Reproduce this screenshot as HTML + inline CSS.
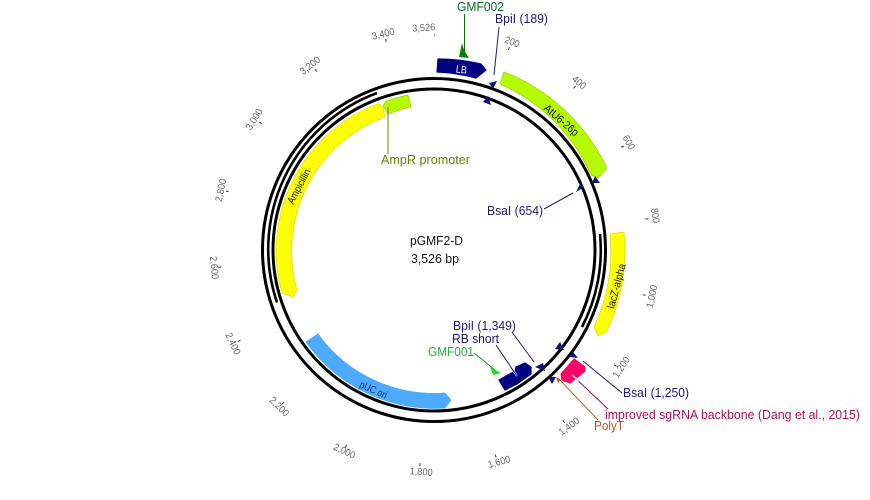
<!DOCTYPE html>
<html><head><meta charset="utf-8"><style>
html,body{margin:0;padding:0;background:#fff}
svg{display:block}
text{font-family:"Liberation Sans",sans-serif}
.t{font-size:10px;fill:#666;text-anchor:middle}
.l{font-size:12.5px}
</style></head><body>
<svg width="870" height="500" viewBox="0 0 870 500" xmlns="http://www.w3.org/2000/svg">
<circle cx="434" cy="250" r="171.5" fill="none" stroke="#000" stroke-width="3"/>
<circle cx="434" cy="250" r="161" fill="none" stroke="#000" stroke-width="3"/>
<path d="M277,302.5 A166.5 166.5 0 0 1 377,93" fill="none" stroke="#000" stroke-width="2.6"/>
<path d="M600,234 A166.5 166.5 0 0 1 582,327" fill="none" stroke="#000" stroke-width="2.6"/>
<circle cx="434" cy="250" r="215" fill="none" stroke="#333" stroke-width="3" pathLength="3526" stroke-dasharray="2.6 197.4" stroke-dashoffset="1.3" transform="rotate(-90 434 250)"/>

<g class="ticks">
<text class="t" lengthAdjust="spacingAndGlyphs" transform="translate(424,31) rotate(-4)" textLength="23">3,526</text>
<text class="t" lengthAdjust="spacingAndGlyphs" transform="translate(384,37) rotate(-14)" textLength="23">3,400</text>
<text class="t" lengthAdjust="spacingAndGlyphs" transform="translate(312,68) rotate(-38)" textLength="23">3,200</text>
<text class="t" lengthAdjust="spacingAndGlyphs" transform="translate(257,121) rotate(-58)" textLength="23">3,000</text>
<text class="t" lengthAdjust="spacingAndGlyphs" transform="translate(224,191) rotate(-78)" textLength="23">2,800</text>
<text class="t" lengthAdjust="spacingAndGlyphs" transform="translate(211,268) rotate(85)" textLength="23">2,600</text>
<text class="t" lengthAdjust="spacingAndGlyphs" transform="translate(230,345) rotate(65)" textLength="23">2,400</text>
<text class="t" lengthAdjust="spacingAndGlyphs" transform="translate(277,409) rotate(45)" textLength="23">2,200</text>
<text class="t" lengthAdjust="spacingAndGlyphs" transform="translate(343,454) rotate(25)" textLength="23">2,000</text>
<text class="t" lengthAdjust="spacingAndGlyphs" transform="translate(421,475) rotate(4)" textLength="23">1,800</text>
<text class="t" lengthAdjust="spacingAndGlyphs" transform="translate(500,465) rotate(-16)" textLength="23">1,600</text>
<text class="t" lengthAdjust="spacingAndGlyphs" transform="translate(571,429) rotate(-36)" textLength="23">1,400</text>
<text class="t" lengthAdjust="spacingAndGlyphs" transform="translate(624,369) rotate(-57)" textLength="23">1,200</text>
<text class="t" lengthAdjust="spacingAndGlyphs" transform="translate(655,297) rotate(-78)" textLength="23">1,000</text>
<text class="t" lengthAdjust="spacingAndGlyphs" transform="translate(652,216) rotate(82)" textLength="15">800</text>
<text class="t" lengthAdjust="spacingAndGlyphs" transform="translate(626,144) rotate(60)" textLength="15">600</text>
<text class="t" lengthAdjust="spacingAndGlyphs" transform="translate(577,85) rotate(40)" textLength="15">400</text>
<text class="t" lengthAdjust="spacingAndGlyphs" transform="translate(511,45) rotate(20)" textLength="15">200</text>
</g>

<!-- features -->
<path d="M504,72 A191 191 0 0 1 607,168 L598,178 L591,175 A178 178 0 0 0 500,84 Z" fill="#b6fa00" stroke="#a0d800" stroke-width=".8" stroke-linejoin="round"/>
<path d="M438,59 A191 191 0 0 1 481,64 L486,70 L476,78 A178 178 0 0 0 437,72 Z" fill="#000080" stroke="#000080" stroke-width="1.2" stroke-linejoin="round"/>
<path d="M282,293 A157 157 0 0 1 379,103.5 L383,108 L385,117 A143 143 0 0 0 297,290 L293,297 Z" fill="#ffff00" stroke="#e0e000" stroke-width=".8" stroke-linejoin="round"/>
<path d="M386,101 A157 157 0 0 1 408,95 L411,107 A143 143 0 0 0 388,114 L383,106 Z" fill="#b6fa00" stroke="#a0d800" stroke-width=".8" stroke-linejoin="round"/>
<path d="M610,234 L624,232 A191 191 0 0 1 606.5,332 L598,336 L594,327 A177 177 0 0 0 610,234 Z" fill="#ffff00" stroke="#e0e000" stroke-width=".8" stroke-linejoin="round"/>
<path d="M318,334 A143 143 0 0 0 445,393 L451,400 L445,408 A158 158 0 0 1 306,342 Z" fill="#4dabff" stroke="#4dabff" stroke-width=".8" stroke-linejoin="round"/>
<path d="M499,380 L515,371 L516,367 L525,363 L531,367 L531,374 L517,384 L505,390 Z" fill="#000080" stroke="#000080" stroke-width="1.2" stroke-linejoin="round"/>
<path d="M574,359 L585,367 L585,371 L570,383 L562,380 L561,374 Z" fill="#ff0066" stroke="#ff0066" stroke-width="1.2" stroke-linejoin="round"/>

<!-- feature labels -->
<text font-size="10.5" fill="#fff" text-anchor="middle" lengthAdjust="spacingAndGlyphs" transform="translate(461,73) rotate(7)" textLength="11">LB</text>
<text font-size="11" fill="#111" text-anchor="middle" lengthAdjust="spacingAndGlyphs" transform="translate(559,123) rotate(41)" textLength="42">AtU6-26p</text>
<text font-size="10.5" fill="#111" text-anchor="middle" lengthAdjust="spacingAndGlyphs" transform="translate(302,188) rotate(-62)" textLength="38">Ampicillin</text>
<text font-size="11" fill="#111" text-anchor="middle" lengthAdjust="spacingAndGlyphs" transform="translate(620,287) rotate(-75)" textLength="46">lacZ-alpha</text>
<text font-size="10.5" fill="#123070" text-anchor="middle" lengthAdjust="spacingAndGlyphs" transform="translate(372,393) rotate(24)" textLength="29">pUC ori</text>

<!-- site triangles -->
<g fill="#10107a">
<polygon points="489,83 497,81 493,89"/>
<polygon points="483,102 488,96 491,105"/>
<polygon points="555,349 560,342 564,350"/>
<polygon points="535,367 543,363 545,371"/>
<polygon points="548,377 556,377 552,384"/>
<polygon points="570,357 573,352 578,358"/>
<polygon points="592,183 595,176 600,183"/>
<polygon points="576,192 580,184 584,187"/>
</g>
<polygon points="556,377 561,380 558,383" fill="#c8601e"/>

<!-- leader lines and labels -->
<line x1="464.5" y1="14" x2="464.5" y2="55" stroke="#0a6b0a" stroke-width="1"/>
<polygon points="459,57 462,43 464,50 469,58" fill="#0a7d0a"/>
<text class="l" lengthAdjust="spacingAndGlyphs" x="457" y="11" fill="#0a6b2a" textLength="47">GMF002</text>
<line x1="499" y1="27" x2="494" y2="75" stroke="#1f1a75" stroke-width="1"/>
<text class="l" lengthAdjust="spacingAndGlyphs" x="495" y="23" fill="#1f1a75" textLength="53">BpiI (189)</text>
<line x1="388" y1="107" x2="388" y2="154" stroke="#6b8000" stroke-width="1"/>
<text class="l" lengthAdjust="spacingAndGlyphs" x="381" y="164" fill="#6b8000" textLength="89">AmpR promoter</text>
<line x1="544" y1="209" x2="573" y2="193" stroke="#1f1a75" stroke-width="1"/>
<text class="l" lengthAdjust="spacingAndGlyphs" x="487" y="215" fill="#1f1a75" textLength="56">BsaI (654)</text>
<line x1="583" y1="361" x2="622" y2="393" stroke="#1f1a75" stroke-width="1"/>
<text class="l" lengthAdjust="spacingAndGlyphs" x="623" y="397" fill="#1f1a75" textLength="66">BsaI (1,250)</text>
<line x1="512" y1="332" x2="534" y2="362" stroke="#1f1a75" stroke-width="1"/>
<text class="l" lengthAdjust="spacingAndGlyphs" x="453" y="330" fill="#1f1a75" textLength="63">BpiI (1,349)</text>
<line x1="496" y1="345" x2="517" y2="376" stroke="#1f1a75" stroke-width="1"/>
<line x1="510" y1="366" x2="517" y2="376" stroke="#fff" stroke-width="2"/>
<line x1="510" y1="366" x2="517" y2="376" stroke="#000080" stroke-width="1"/>
<text class="l" lengthAdjust="spacingAndGlyphs" x="452" y="343" fill="#1f1a75" textLength="47">RB short</text>
<line x1="474" y1="353" x2="495" y2="370" stroke="#149a14" stroke-width="1"/>
<polygon points="490,367 501,373 493,375" fill="#1de01d"/>
<text class="l" lengthAdjust="spacingAndGlyphs" x="428" y="356" fill="#22b03a" textLength="46">GMF001</text>
<line x1="572" y1="375" x2="608" y2="409" stroke="#a0104f" stroke-width="1"/>
<line x1="572" y1="375" x2="579" y2="381" stroke="#ffc0d8" stroke-width="1.6"/>
<text class="l" lengthAdjust="spacingAndGlyphs" x="605" y="419" fill="#a5115a" textLength="255">improved sgRNA backbone (Dang et al., 2015)</text>
<line x1="558" y1="378" x2="598" y2="420" stroke="#c8601e" stroke-width="1"/>
<text class="l" lengthAdjust="spacingAndGlyphs" x="594" y="430" fill="#b5561e" textLength="30">PolyT</text>

<text class="l" lengthAdjust="spacingAndGlyphs" x="410" y="245" fill="#111" textLength="53">pGMF2-D</text>
<text class="l" lengthAdjust="spacingAndGlyphs" x="411" y="263" fill="#111" textLength="48">3,526 bp</text>
</svg>
</body></html>
